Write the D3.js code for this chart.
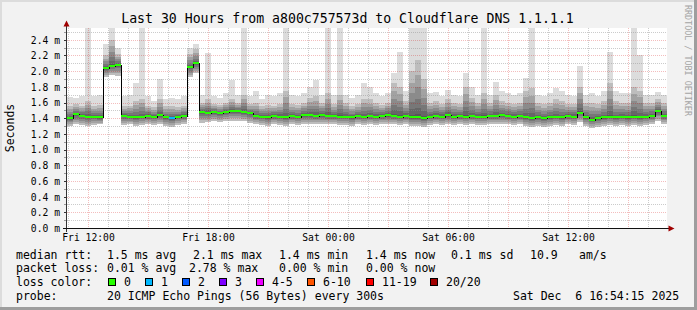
<!DOCTYPE html>
<html>
<head>
<meta charset="utf-8">
<script src="https://cdn.jsdelivr.net/npm/d3@7/dist/d3.min.js"></script>
<style>
  html, body { margin: 0; padding: 0; background: #f2f2f2; }
  svg { display: block; font-family: "DejaVu Sans Mono", monospace; }
</style>
</head>
<body>
<svg id="chart" width="697" height="310"></svg>
<script>
// ---- data (in ms) ----
const title = "Last 30 Hours from a800c757573d to Cloudflare DNS 1.1.1.1";
const startTime = new Date(Date.UTC(2025, 11, 5, 10, 57));
const endTime = new Date(Date.UTC(2025, 11, 6, 16, 57));
const stepMinutes = 18;

const median = [
  1.40, 1.45, 1.43, 1.42, 1.42, 1.41, 2.04, 2.07, 2.08, 1.43,
  1.42, 1.41, 1.42, 1.43, 1.42, 1.44, 1.41, 1.40, 1.42, 1.43,
  2.05, 2.10, 1.48, 1.47, 1.48, 1.46, 1.48, 1.49, 1.49, 1.48,
  1.46, 1.43, 1.42, 1.41, 1.43, 1.42, 1.41, 1.43, 1.42, 1.44,
  1.44, 1.43, 1.44, 1.43, 1.43, 1.42, 1.42, 1.41, 1.43, 1.42,
  1.43, 1.42, 1.43, 1.44, 1.43, 1.42, 1.43, 1.41, 1.41, 1.40,
  1.42, 1.43, 1.42, 1.44, 1.42, 1.43, 1.42, 1.43, 1.42, 1.42,
  1.43, 1.43, 1.44, 1.43, 1.42, 1.43, 1.41, 1.40, 1.41, 1.40,
  1.41, 1.42, 1.41, 1.43, 1.42, 1.47, 1.41, 1.38, 1.40, 1.41,
  1.42, 1.41, 1.42, 1.41, 1.42, 1.41, 1.42, 1.43, 1.49, 1.43
];
const low = [
  1.30, 1.32, 1.31, 1.30, 1.31, 1.32, 1.92, 1.95, 1.94, 1.31,
  1.32, 1.30, 1.31, 1.32, 1.31, 1.32, 1.30, 1.29, 1.31, 1.32,
  1.92, 1.97, 1.34, 1.35, 1.36, 1.35, 1.36, 1.37, 1.37, 1.36,
  1.34, 1.32, 1.31, 1.30, 1.32, 1.31, 1.30, 1.32, 1.31, 1.32,
  1.33, 1.32, 1.33, 1.32, 1.32, 1.31, 1.31, 1.30, 1.32, 1.31,
  1.32, 1.31, 1.32, 1.33, 1.32, 1.31, 1.32, 1.30, 1.30, 1.29,
  1.31, 1.32, 1.31, 1.33, 1.31, 1.32, 1.31, 1.32, 1.31, 1.31,
  1.32, 1.32, 1.33, 1.32, 1.31, 1.32, 1.30, 1.29, 1.30, 1.29,
  1.30, 1.31, 1.30, 1.32, 1.31, 1.35, 1.30, 1.28, 1.29, 1.30,
  1.31, 1.30, 1.31, 1.30, 1.31, 1.30, 1.31, 1.32, 1.36, 1.32
];
const upper = [
  1.55, 1.58, 1.56, 1.62, 1.55, 1.57, 2.20, 2.40, 2.22, 1.55,
  1.56, 1.62, 1.65, 1.56, 1.54, 1.64, 1.55, 1.56, 1.54, 1.56,
  2.22, 2.28, 1.60, 1.64, 1.58, 1.57, 1.60, 1.65, 1.60, 1.70,
  1.58, 1.60, 1.55, 1.57, 1.56, 1.58, 1.75, 1.58, 1.57, 1.60,
  1.66, 1.68, 1.60, 1.72, 1.58, 1.70, 1.60, 1.56, 1.58, 1.65,
  1.64, 1.60, 1.57, 1.60, 1.85, 1.80, 1.62, 2.00, 2.14, 1.90,
  1.60, 1.62, 1.58, 1.64, 1.60, 1.58, 1.80, 1.66, 1.60, 1.72,
  1.60, 1.70, 1.62, 1.60, 1.58, 1.60, 1.75, 1.78, 1.60, 1.58,
  1.60, 1.64, 1.62, 1.58, 1.58, 1.80, 1.60, 1.60, 1.58, 1.62,
  1.85, 1.62, 1.60, 1.60, 1.80, 1.75, 1.60, 1.60, 1.64, 1.60
];
const high = [
  1.67, 1.66, 1.68, 2.60, 1.68, 1.70, 2.35, 2.60, 2.30, 1.68,
  1.70, 1.85, 2.60, 1.68, 1.62, 1.90, 1.65, 1.66, 1.64, 1.68,
  2.30, 2.35, 1.70, 2.23, 1.68, 1.66, 1.72, 1.89, 1.70, 2.60,
  1.68, 1.75, 1.65, 1.70, 1.68, 1.72, 2.60, 1.70, 1.68, 1.72,
  1.80, 1.89, 1.70, 2.60, 1.70, 2.60, 1.70, 1.66, 1.70, 1.85,
  1.80, 1.72, 1.68, 1.72, 1.97, 2.25, 1.75, 2.60, 2.60, 2.60,
  1.72, 1.74, 1.68, 1.76, 1.70, 1.68, 1.97, 1.80, 1.70, 2.60,
  1.70, 1.86, 1.75, 1.72, 1.70, 1.72, 1.91, 2.60, 1.70, 1.68,
  1.72, 1.78, 1.75, 1.70, 1.68, 2.06, 1.70, 1.72, 1.68, 1.75,
  2.25, 1.75, 1.72, 1.72, 2.60, 2.20, 1.70, 1.70, 1.74, 1.70
];
const lossCount = [
  0, 0, 0, 0, 0, 0, 0, 0, 0, 0,
  0, 0, 0, 0, 0, 0, 0, 1, 0, 0,
  0, 0, 0, 0, 0, 0, 0, 0, 0, 0,
  0, 0, 0, 0, 0, 0, 0, 0, 0, 0,
  0, 0, 0, 0, 0, 0, 0, 0, 0, 0,
  0, 0, 0, 0, 0, 0, 0, 0, 0, 0,
  0, 0, 0, 0, 0, 0, 0, 0, 0, 0,
  0, 0, 0, 0, 0, 0, 0, 0, 0, 0,
  0, 0, 0, 0, 0, 0, 0, 0, 0, 0,
  0, 0, 0, 0, 0, 0, 0, 0, 0, 0
];

const yTicks = [0.0, 0.2, 0.4, 0.6, 0.8, 1.0, 1.2, 1.4, 1.6, 1.8, 2.0, 2.2, 2.4];
const lossLabels = ["0", "1", "2", "3", "4-5", "6-10", "11-19", "20/20"];
const lossColors = ["#26ff00", "#00b8ff", "#0059ff", "#7e00ff", "#ee00ff", "#ff5500", "#ff0000", "#a10000"];
const lossUpper = [0, 1, 2, 3, 5, 10, 19, 20];

const rttLine = ["median rtt:", "1.5 ms avg", "2.1 ms max", "1.4 ms min", "1.4 ms now", "0.1 ms sd", "10.9", "am/s"];
const lossLine = ["packet loss:", "0.01 % avg", "2.78 % max", "0.00 % min", "0.00 % now"];
const probeLine = ["probe:", "20 ICMP Echo Pings (56 Bytes) every 300s", "Sat Dec  6 16:54:15 2025"];

// ---- layout ----
const W = 697, H = 310;
const plot = { left: 67, right: 667, top: 28, bottom: 228 };
const rttX = [16, 107, 193, 279, 366, 451, 530, 579];
const lossX = [16, 107, 189, 279, 366];
const probeX = [16, 107, 513];
const swatchX = [108.5, 145.5, 182.5, 219.5, 256.5, 307.5, 366.5, 430.5];
const legendY = [258.5, 272.2, 285.9, 299.6];

const svg = d3.select("#chart");

// background + frame
svg.append("rect").attr("width", W).attr("height", H).attr("fill", "#f2f2f2");
svg.append("rect").attr("width", W).attr("height", 2).attr("fill", "#dcdcdc");
svg.append("rect").attr("width", 2).attr("height", H).attr("fill", "#dcdcdc");
svg.append("rect").attr("y", H - 3).attr("width", W).attr("height", 3).attr("fill", "#9e9e9e");
svg.append("rect").attr("x", W - 3).attr("width", 3).attr("height", H).attr("fill", "#9e9e9e");

// canvas
svg.append("rect")
  .attr("x", plot.left).attr("y", plot.top)
  .attr("width", plot.right - plot.left).attr("height", plot.bottom - plot.top)
  .attr("fill", "#fff");

svg.append("defs").append("clipPath").attr("id", "plotClip")
  .append("rect")
  .attr("x", plot.left).attr("y", plot.top)
  .attr("width", plot.right - plot.left).attr("height", plot.bottom - plot.top);

const x = d3.scaleUtc().domain([startTime, endTime]).range([plot.left, plot.right]);
const y = d3.scaleLinear().domain([0, 2.55]).range([plot.bottom, plot.top]);

const N = median.length;
const stepTime = (i) => new Date(startTime.getTime() + i * stepMinutes * 60000);
const at = (arr, i) => arr[Math.min(i, N - 1)];
const idx = d3.range(N + 1);

// smoke
const smoke = svg.append("g").attr("clip-path", "url(#plotClip)").attr("shape-rendering", "crispEdges");
const band = (lo, hi) => d3.area()
  .curve(d3.curveStepAfter)
  .x((i) => x(stepTime(i)))
  .y0((i) => y(lo(i)))
  .y1((i) => y(hi(i)));

smoke.append("path").datum(idx)
  .attr("d", band((i) => at(low, i), (i) => at(high, i)))
  .attr("fill", "#dcdcdc");

const layers = 6;
for (let k = layers; k >= 1; k--) {
  const f = Math.pow(k / layers, 1.6);
  smoke.append("path").datum(idx)
    .attr("d", band(
      (i) => at(median, i) - (at(median, i) - at(low, i)) * f,
      (i) => at(median, i) + (at(upper, i) - at(median, i)) * f))
    .attr("fill", "#000")
    .attr("fill-opacity", 0.14);
}

// grid
const grid = svg.append("g").attr("shape-rendering", "crispEdges");
const minorY = yTicks.map((v) => v + 0.1);
const hours = x.ticks(d3.utcHour.every(1));
const majorHours = hours.filter((d) => d.getUTCHours() % 3 === 0);
const minorHours = hours.filter((d) => d.getUTCHours() % 3 !== 0);
const minorColor = "rgba(140,140,140,0.45)";
const majorColor = "rgba(210,0,0,0.26)";

grid.selectAll("line.minor-y").data(minorY).enter().append("line")
  .attr("x1", plot.left).attr("x2", plot.right)
  .attr("y1", (d) => Math.round(y(d)) + 0.5).attr("y2", (d) => Math.round(y(d)) + 0.5)
  .attr("stroke", minorColor).attr("stroke-dasharray", "1,1");
grid.selectAll("line.minor-x").data(minorHours).enter().append("line")
  .attr("y1", plot.top).attr("y2", plot.bottom)
  .attr("x1", (d) => Math.round(x(d)) + 0.5).attr("x2", (d) => Math.round(x(d)) + 0.5)
  .attr("stroke", minorColor).attr("stroke-dasharray", "1,1");
grid.selectAll("line.major-y").data(yTicks.slice(1)).enter().append("line")
  .attr("x1", plot.left).attr("x2", plot.right)
  .attr("y1", (d) => Math.round(y(d)) + 0.5).attr("y2", (d) => Math.round(y(d)) + 0.5)
  .attr("stroke", majorColor).attr("stroke-dasharray", "1,1");
grid.selectAll("line.major-x").data(majorHours).enter().append("line")
  .attr("y1", plot.top).attr("y2", plot.bottom)
  .attr("x1", (d) => Math.round(x(d)) + 0.5).attr("x2", (d) => Math.round(x(d)) + 0.5)
  .attr("stroke", majorColor).attr("stroke-dasharray", "1,1");

// y ticks on the axis
grid.selectAll("line.ytick").data(yTicks.concat(minorY)).enter().append("line")
  .attr("x1", plot.left - 3).attr("x2", plot.left)
  .attr("y1", (d) => Math.round(y(d)) + 0.5).attr("y2", (d) => Math.round(y(d)) + 0.5)
  .attr("stroke", (d, i) => i < yTicks.length ? "#333" : "#999");

// median
const lossIndex = (c) => lossUpper.findIndex((u) => c <= u);
const med = svg.append("g").attr("clip-path", "url(#plotClip)");
med.append("path").datum(idx)
  .attr("d", d3.line().curve(d3.curveStepAfter)
    .x((i) => x(stepTime(i)))
    .y((i) => Math.round(y(at(median, i))) + 0.5))
  .attr("fill", "none").attr("stroke", "#000").attr("stroke-width", 1)
  .attr("shape-rendering", "crispEdges");
med.selectAll("rect.med").data(d3.range(N)).enter().append("rect")
  .attr("x", (i) => x(stepTime(i)))
  .attr("width", (i) => x(stepTime(i + 1)) - x(stepTime(i)))
  .attr("y", (i) => Math.round(y(median[i])) - 1)
  .attr("height", 2)
  .attr("fill", (i) => lossColors[lossIndex(lossCount[i])])
  .attr("shape-rendering", "crispEdges");

// axes
const axes = svg.append("g").attr("shape-rendering", "crispEdges");
axes.append("line")
  .attr("x1", plot.left - 0.5).attr("x2", plot.left - 0.5)
  .attr("y1", plot.bottom + 4).attr("y2", plot.top - 3)
  .attr("stroke", "#333");
axes.append("line")
  .attr("x1", plot.left - 4).attr("x2", plot.right + 4)
  .attr("y1", plot.bottom + 0.5).attr("y2", plot.bottom + 0.5)
  .attr("stroke", "#111");
svg.append("path")
  .attr("d", `M${plot.left - 3.5},${plot.top - 1.5} L${plot.left + 2.5},${plot.top - 1.5} L${plot.left - 0.5},${plot.top - 7.5} Z`)
  .attr("fill", "#a00000");
svg.append("path")
  .attr("d", `M${plot.right + 1.5},${plot.bottom - 2.5} L${plot.right + 1.5},${plot.bottom + 3.5} L${plot.right + 7.5},${plot.bottom + 0.5} Z`)
  .attr("fill", "#a00000");

// axis labels
const yAxis = d3.axisLeft(y).tickValues(yTicks).tickSize(0).tickPadding(0)
  .tickFormat((d) => d.toFixed(1) + " m");
svg.append("g").attr("transform", `translate(60,0)`).call(yAxis)
  .call((g) => g.select(".domain").remove())
  .selectAll("text")
  .attr("font-family", "DejaVu Sans Mono").attr("font-size", 9.7).attr("fill", "#000")
  .attr("dy", "0.35em");

const xAxis = d3.axisBottom(x).ticks(d3.utcHour.every(6)).tickSize(0).tickPadding(0)
  .tickFormat(d3.utcFormat("%a %H:%M"));
svg.append("g").attr("transform", `translate(0,233)`).call(xAxis)
  .call((g) => g.select(".domain").remove())
  .selectAll("text")
  .attr("font-family", "DejaVu Sans Mono").attr("font-size", 9.7).attr("fill", "#000")
  .attr("dy", "0.8em");

svg.append("text")
  .attr("transform", "translate(14,128) rotate(-90)")
  .attr("text-anchor", "middle")
  .attr("font-size", 11.5)
  .text("Seconds");

// title
svg.append("text")
  .attr("x", 347.5).attr("y", 23)
  .attr("text-anchor", "middle")
  .attr("font-size", 13.2)
  .text(title);

// watermark
svg.append("text")
  .attr("transform", "translate(685,5) rotate(90)")
  .attr("font-size", 8.4)
  .attr("fill", "#a4a4a4")
  .text("RRDTOOL / TOBI OETIKER");

// legend
const legend = svg.append("g").attr("font-size", 11.5).attr("fill", "#000");
const textRow = (items, xs, yy) => legend.append("g").selectAll("text").data(items).enter().append("text")
  .attr("x", (d, i) => xs[i]).attr("y", yy)
  .attr("xml:space", "preserve").style("white-space", "pre")
  .text((d) => d);
textRow(rttLine, rttX, legendY[0]);
textRow(lossLine, lossX, legendY[1]);
legend.append("text").attr("x", 16).attr("y", legendY[2]).text("loss color:");
const sw = legend.append("g").selectAll("g").data(lossLabels).enter().append("g");
sw.append("rect")
  .attr("x", (d, i) => swatchX[i]).attr("y", legendY[2] - 7.5)
  .attr("width", 7).attr("height", 7)
  .attr("fill", (d, i) => lossColors[i])
  .attr("stroke", "#000").attr("stroke-width", 1)
  .attr("shape-rendering", "crispEdges");
sw.append("text")
  .attr("x", (d, i) => swatchX[i] + 15.5).attr("y", legendY[2])
  .text((d) => d);
textRow(probeLine, probeX, legendY[3]);
</script>
</body>
</html>
